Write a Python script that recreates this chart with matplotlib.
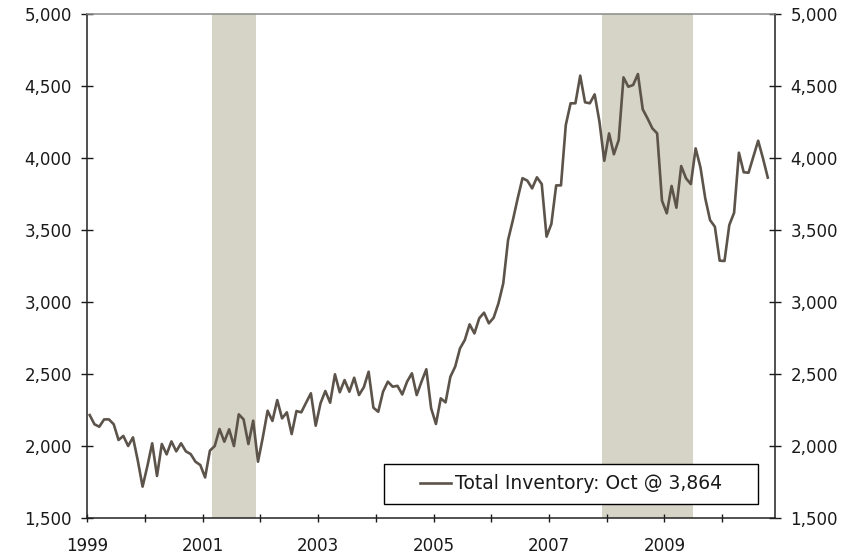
import numpy as np
import matplotlib
matplotlib.use("Agg")
import matplotlib.pyplot as plt
from matplotlib.patches import Rectangle

# monthly total inventory (thousands), Jan 1999 - Oct 2010
inv_1999 = [2215, 2151, 2134, 2185, 2185, 2151, 2042, 2070, 2000, 2060, 1900, 1718]
inv_2000 = [1861, 2019, 1792, 2014, 1942, 2032, 1963, 2019, 1963, 1944, 1891, 1868]
inv_2001 = [1782, 1968, 2000, 2118, 2030, 2116, 2000, 2220, 2185, 2014, 2176, 1891]
inv_2002 = [2060, 2245, 2174, 2319, 2192, 2234, 2083, 2243, 2234, 2301, 2366, 2141]
inv_2003 = [2297, 2382, 2301, 2498, 2373, 2458, 2377, 2474, 2354, 2408, 2516, 2266]
inv_2004 = [2238, 2377, 2447, 2412, 2418, 2358, 2447, 2505, 2354, 2447, 2533, 2262]
inv_2005 = [2153, 2331, 2303, 2481, 2551, 2678, 2736, 2845, 2782, 2887, 2926, 2852]
inv_2006 = [2891, 2991, 3130, 3431, 3569, 3720, 3860, 3843, 3789, 3866, 3819, 3454]
inv_2007 = [3542, 3810, 3810, 4229, 4380, 4380, 4572, 4387, 4380, 4442, 4252, 3981]
inv_2008 = [4171, 4026, 4125, 4560, 4495, 4507, 4583, 4338, 4275, 4206, 4171, 3704]
inv_2009 = [3616, 3806, 3655, 3944, 3859, 3819, 4067, 3935, 3720, 3569, 3523, 3287]
inv_2010 = [3285, 3535, 3620, 4037, 3901, 3898, 4009, 4120, 3998, 3864]

inventory = (inv_1999 + inv_2000 + inv_2001 + inv_2002 + inv_2003 + inv_2004
             + inv_2005 + inv_2006 + inv_2007 + inv_2008 + inv_2009 + inv_2010)
start_year = 1999
# dates as decimal years, mid month
t = start_year + (np.arange(len(inventory)) + 0.5) / 12

# recessions (decimal years)
rec_start = [2001 + 2/12, 2007 + 11/12]
rec_end = [2001 + 11/12, 2009 + 6/12]

label = "Total Inventory: Oct @ 3,864"
yticks = [1500, 2000, 2500, 3000, 3500, 4000, 4500, 5000]
xlabels = [1999, 2001, 2003, 2005, 2007, 2009]

line_col = "#5c534a"
shade_col = "#d6d3c7"
txt_col = "#1a1a1a"

plt.rcParams['font.family'] = ['DejaVu Sans']

fig = plt.figure(figsize=(8.59, 5.56), dpi=100)
ax = fig.add_axes([0.1016, 0.0683, 0.8006, 0.9065])

for a, b in zip(rec_start, rec_end):
    ax.axvspan(a, b, color=shade_col, lw=0, zorder=0)

ax.plot(t, inventory, color=line_col, lw=1.9, label=label, zorder=3)

ax.set_xlim(1999, 2010 + 11/12)
ax.set_ylim(1500, 5000)
ax.set_yticks(yticks)
ax.set_yticklabels([f"{v:,}" for v in yticks])
ax.set_xticks(xlabels)
ax.set_xticklabels([str(y) for y in xlabels])
ax.set_xticks(list(range(2000, 2011, 2)), minor=True)

ax.tick_params(axis='y', direction='inout', length=9, width=1, pad=6.5,
               labelsize=12, colors=txt_col, left=True, right=True,
               labelleft=True, labelright=True)
ax.tick_params(axis='x', which='both', direction='inout', length=6, width=1,
               pad=11, labelsize=12, colors=txt_col)

for s in ['left', 'right', 'bottom']:
    ax.spines[s].set_color("#222222")
    ax.spines[s].set_linewidth(1.1)
ax.spines['top'].set_color("#8a8a8a")
ax.spines['top'].set_linewidth(1.1)

# legend box
box = Rectangle((0.447, 0.0935), 0.4354, 0.0719, transform=fig.transFigure,
                facecolor='white', edgecolor='black', lw=1.0, zorder=5)
fig.patches.append(box)
leg = fig.legend(loc='center', bbox_to_anchor=(0.6647, 0.1295), frameon=False,
                 fontsize=13.5, handlelength=1.7, handletextpad=0.2)
leg.set_zorder(6)
for txt in leg.get_texts():
    txt.set_color(txt_col)

fig.savefig("out.png", dpi=100)
